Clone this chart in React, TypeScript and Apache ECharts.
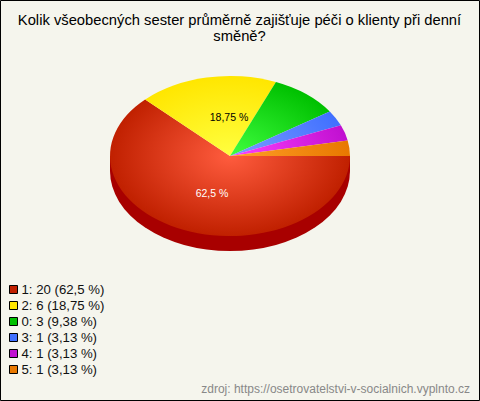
import React, { useEffect, useRef } from "react";
import * as echarts from "echarts";

const titleLines = ["Kolik všeobecných sester průměrně zajišťuje péči o klienty při denní", "směně?"];
const categories = ["1", "2", "0", "3", "4", "5"];
const counts = [20, 6, 3, 1, 1, 1];
const percentLabels = ["62,5", "18,75", "9,38", "3,13", "3,13", "3,13"];
const sliceLabels = ["62,5 %", "18,75 %", "", "", "", ""];
const sourceText = "zdroj: https://osetrovatelstvi-v-socialnich.vyplnto.cz";

const edgeColors = ["#c02000", "#ffe600", "#00c000", "#4070ff", "#c010d0", "#e87800"];
const centerColors = ["#ff5c3e", "#ffff40", "#40ff40", "#7c9cff", "#ff40ff", "#ffa028"];
const labelColors = ["#ffffff", "#000000", "#000000", "#000000", "#000000", "#000000"];
const labelAt: [number, number][] = [[212, 193], [229, 117], [0, 0], [0, 0], [0, 0], [0, 0]];
const sideColor = "#a80000";
const FONT = "'Liberation Sans', Arial, sans-serif";
const CX = 230, CY = 156, RX = 120, RY = 80, DEPTH = 15;

const total = counts.reduce((a, b) => a + b, 0);
const startOf = (i: number) =>
  (counts.slice(0, i).reduce((a, b) => a + b, 0) / total) * Math.PI * 2;

export default function App() {
  const ref = useRef<HTMLDivElement>(null);
  useEffect(() => {
    document.body.style.margin = "0";
    const chart = echarts.init(ref.current!, undefined, { renderer: "svg" });
    const names = categories.map((c, i) => `${c}: ${counts[i]} (${percentLabels[i]} %)`);
    const series = names.map((name, i) => ({
      type: "custom",
      name,
      coordinateSystem: "none",
      silent: true,
      itemStyle: { color: edgeColors[i] },
      data: [[counts[i]]],
      renderItem: (_p: any, api: any) => {
        const a0 = startOf(i);
        const a1 = a0 + (api.value(0) / total) * Math.PI * 2;
        const children: any[] = [];
        const sA = a0, sB = Math.min(a1, Math.PI);
        if (sB > sA) {
          children.push({
            type: "sector",
            x: CX, y: CY + DEPTH, scaleY: RY / RX,
            shape: { cx: 0, cy: 0, r0: 0, r: RX, startAngle: sA, endAngle: sB, clockwise: true },
            style: { fill: sideColor },
          });
          const xa = CX + RX * Math.cos(sA), xb = CX + RX * Math.cos(sB);
          children.push({
            type: "rect",
            shape: { x: Math.min(xa, xb), y: CY, width: Math.abs(xb - xa), height: DEPTH },
            style: { fill: sideColor },
          });
        }
        children.push({
          type: "sector",
          x: CX, y: CY, scaleY: RY / RX,
          shape: { cx: 0, cy: 0, r0: 0, r: RX, startAngle: a0, endAngle: a1, clockwise: true },
          style: {
            fill: new echarts.graphic.RadialGradient(0, 0, RX, [
              { offset: 0, color: centerColors[i] },
              { offset: 1, color: edgeColors[i] },
            ], true),
          },
        });
        if (sliceLabels[i]) {
          children.push({
            type: "text",
            x: labelAt[i][0], y: labelAt[i][1],
            style: {
              text: sliceLabels[i], fill: labelColors[i],
              font: `10.5px ${FONT}`, align: "center", verticalAlign: "middle",
            },
          });
        }
        return { type: "group", children };
      },
    }));
    chart.setOption({
      animation: false,
      backgroundColor: "#f5f5ed",
      legend: {
        orient: "vertical",
        left: 9, top: 283,
        padding: 0,
        itemWidth: 8, itemHeight: 8, itemGap: 3,
        icon: "rect",
        selectedMode: false,
        data: names,
        itemStyle: { borderColor: "#000", borderWidth: 1 },
        textStyle: { fontFamily: FONT, fontSize: 13.2, color: "#111", padding: [0, 0, 0, -1], lineHeight: 13 },
      },
      graphic: [
        { type: "rect", silent: true, shape: { x: 0.5, y: 0.5, width: 479, height: 400 }, style: { fill: "none", stroke: "#000", lineWidth: 1 } },
        ...titleLines.map((t, i) => ({
          type: "text", x: 239.5, y: 20 + i * 16,
          style: { text: t, font: `14.75px ${FONT}`, fill: "#000", align: "center", verticalAlign: "middle" },
        })),
        {
          type: "text", x: 470, y: 389,
          style: { text: sourceText, font: `12px ${FONT}`, fill: "#888", align: "right", verticalAlign: "middle" },
        },
      ],
      series,
    });
    return () => chart.dispose();
  }, []);
  return <div ref={ref} style={{ width: 480, height: 401 }} />;
}
